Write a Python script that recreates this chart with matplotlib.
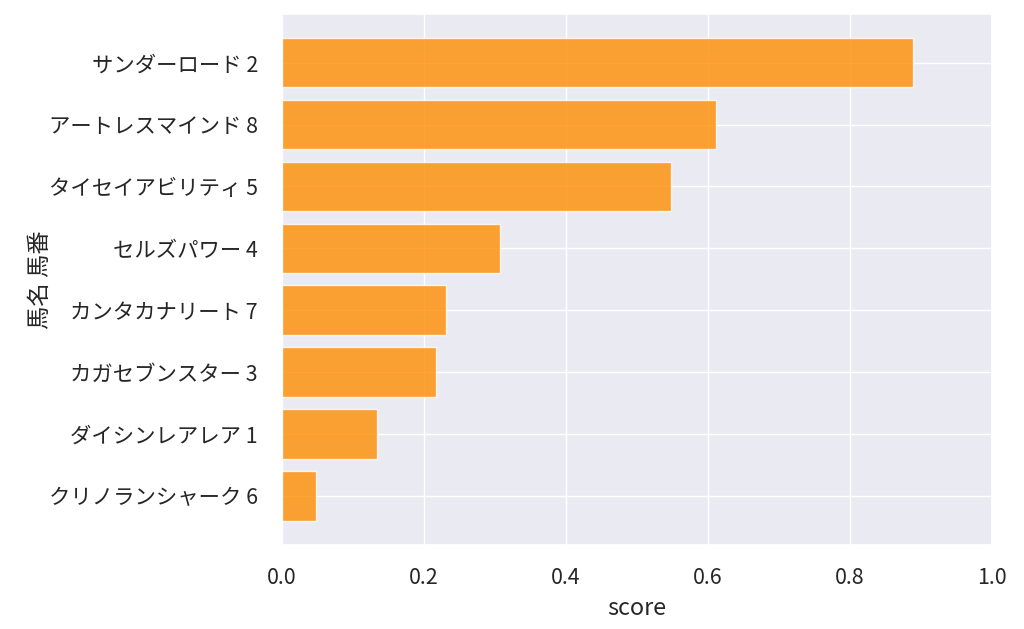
import matplotlib
matplotlib.use("Agg")
import matplotlib.pyplot as plt
import seaborn as sns

# --------------------------
# Datos
# --------------------------
horses = [
    "サンダーロード 2",
    "アートレスマインド 8",
    "タイセイアビリティ 5",
    "セルズパワー 4",
    "カンタカナリート 7",
    "カガセブンスター 3",
    "ダイシンレアレア 1",
    "クリノランシャーク 6",
]
scores = [0.889, 0.611, 0.548, 0.308, 0.232, 0.217, 0.134, 0.048]

sns.set_theme(style="darkgrid", font_scale=1.4)
plt.rcParams['font.family'] = ['Noto Sans CJK JP', 'DejaVu Sans']

fig, ax = plt.subplots(figsize=(10.24, 6.29), dpi=100)
ax.barh(horses, scores, height=0.8, color="darkorange", alpha=0.8,
        edgecolor="white", linewidth=1)
ax.invert_yaxis()
ax.set_xlim(0, 1.0)
ax.set_xlabel("score", labelpad=6)
ax.set_ylabel("馬名 馬番", labelpad=-2)
ax.tick_params(axis="x", pad=10)
ax.tick_params(axis="y", pad=11)

plt.subplots_adjust(left=0.275, right=0.969, top=0.978, bottom=0.134)
plt.savefig("out.png", dpi=100)
